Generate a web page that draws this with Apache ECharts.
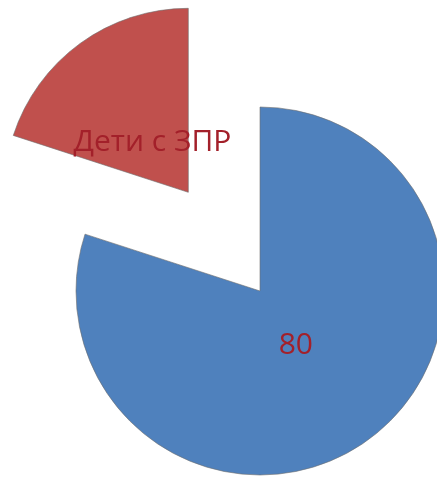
<!DOCTYPE html>
<html>
<head>
<meta charset="utf-8">
<script src="https://cdn.jsdelivr.net/npm/echarts@6/dist/echarts.min.js"></script>
<style>
html,body{margin:0;padding:0;background:#fff;}
#chart{width:437px;height:478px;}
</style>
</head>
<body>
<div id="chart"></div>
<script>
// Data
const categories = ['', 'Дети с ЗПР'];
const values = [80, 20];
const labelModes = ['{c}', '{b}']; // first slice shows value, second shows name
const sliceColors = ['#4F81BD', '#C0504D'];
const explodedIndex = 1;

const chart = echarts.init(document.getElementById('chart'), null, {renderer: 'canvas'});

const center = [260, 291];
const outerRadius = 184;
const labelRadius = 116;
const offset = 122;

const mainData = categories.map((c, i) => ({
  name: c,
  value: values[i],
  selected: i === explodedIndex,
  itemStyle: {color: sliceColors[i]}
}));

const labelData = categories.map((c, i) => ({
  name: c,
  value: values[i],
  selected: i === explodedIndex,
  label: {formatter: labelModes[i]}
}));

chart.setOption({
  animation: false,
  backgroundColor: '#ffffff',
  series: [
    {
      type: 'pie',
      center: center,
      radius: outerRadius,
      startAngle: 90,
      clockwise: true,
      selectedMode: 'single',
      selectedOffset: offset,
      avoidLabelOverlap: false,
      silent: true,
      label: {show: false},
      labelLine: {show: false},
      itemStyle: {borderColor: 'rgba(110,110,110,0.6)', borderWidth: 1},
      emphasis: {disabled: true},
      data: mainData
    },
    {
      type: 'pie',
      center: center,
      radius: labelRadius,
      startAngle: 90,
      clockwise: true,
      selectedMode: 'single',
      selectedOffset: offset,
      avoidLabelOverlap: false,
      silent: true,
      itemStyle: {color: 'rgba(0,0,0,0)', borderWidth: 0},
      label: {
        show: true,
        position: 'inside',
        color: '#A3202A',
        fontFamily: 'Open Sans',
        fontSize: 30,
        offset: [0, 5]
      },
      labelLine: {show: false},
      emphasis: {disabled: true},
      data: labelData
    }
  ]
});
</script>
</body>
</html>
